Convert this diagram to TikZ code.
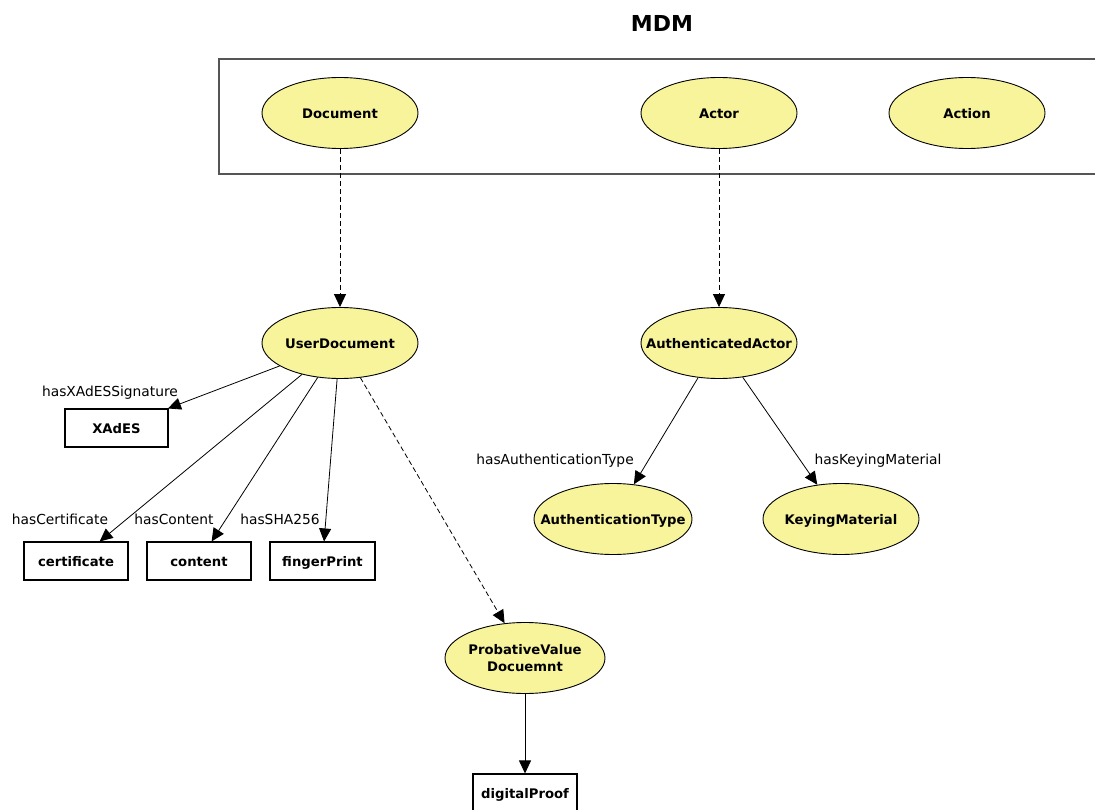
\documentclass[tikz,border=0pt]{standalone}
\usepackage{fontspec}
\setmainfont{DejaVu Sans}
\usetikzlibrary{arrows.meta,shapes.geometric}
\definecolor{clsfill}{RGB}{247,244,155}
\definecolor{frame}{RGB}{85,85,85}
\tikzset{
  clsbase/.style={ellipse,draw=black,line width=0.9pt,fill=clsfill,minimum width=156pt,minimum height=71pt,inner ysep=0pt,inner xsep=-30pt,font=\bfseries\fontsize{13.2}{17}\selectfont,align=center},
  cls/.style={clsbase,text height=12.5pt,text depth=1.5pt},
  lit/.style={rectangle,draw=black,line width=1.1pt,fill=white,minimum width=104pt,minimum height=38pt,inner sep=0pt,font=\bfseries\fontsize{13.2}{15.5}\selectfont,text height=12.5pt,text depth=1.5pt},
  prop/.style={-{Triangle[length=13pt,width=12pt]},line width=0.8pt},
  sub/.style={prop,dashed,dash pattern=on 5pt off 3pt},
  lbl/.style={font=\fontsize{13.8}{16}\selectfont,inner sep=0pt},
}
\begin{document}
\begin{tikzpicture}[x=1pt,y=-1pt]
\useasboundingbox (0,0) rectangle (1095,810);
\node[font=\bfseries\fontsize{22}{26}\selectfont] (title) at (662,23) {MDM};
\draw[frame,line width=1.2pt] (1100,59) -- (219,59) -- (219,174) -- (1100,174);
\node[cls] (doc) at (340,113) {Document};
\node[cls] (actor) at (719,113) {Actor};
\node[cls] (action) at (967,113) {Action};
\node[cls] (udoc) at (340,343) {UserDocument};
\node[cls] (aact) at (719,343) {AuthenticatedActor};
\node[cls,minimum width=158pt] (atype) at (613,519) {AuthenticationType};
\node[cls] (keym) at (841,519) {KeyingMaterial};
\node[clsbase,minimum width=160pt] (pvd) at (525,658) {ProbativeValue\\Docuemnt};
\node[lit,minimum width=103pt] (xades) at (116.5,428) {XAdES};
\node[lit] (cert) at (76,561) {certificate};
\node[lit] (cont) at (199,561) {content};
\node[lit,minimum width=105pt] (fp) at (322.5,561) {fingerPrint};
\node[lit] (dp) at (525,793) {digitalProof};
\draw[sub] (doc) -- (udoc);
\draw[sub] (actor) -- (aact);
\draw[sub] (udoc) -- (pvd);
\draw[prop] (udoc) -- (xades);
\draw[prop] (udoc) -- (cert);
\draw[prop] (udoc) -- (cont);
\draw[prop] (udoc) -- (fp);
\draw[prop] (aact) -- (atype);
\draw[prop] (aact) -- (keym);
\draw[prop] (pvd) -- (dp);
\node[lbl] (l1) at (110,393) {hasXAdESSignature};
\node[lbl] (l2) at (60,519) {hasCertificate};
\node[lbl] (l3) at (174,519) {hasContent};
\node[lbl] (l4) at (280,519) {hasSHA256};
\node[lbl] (l5) at (555,461) {hasAuthenticationType};
\node[lbl] (l6) at (878,461) {hasKeyingMaterial};
\end{tikzpicture}
\end{document}
